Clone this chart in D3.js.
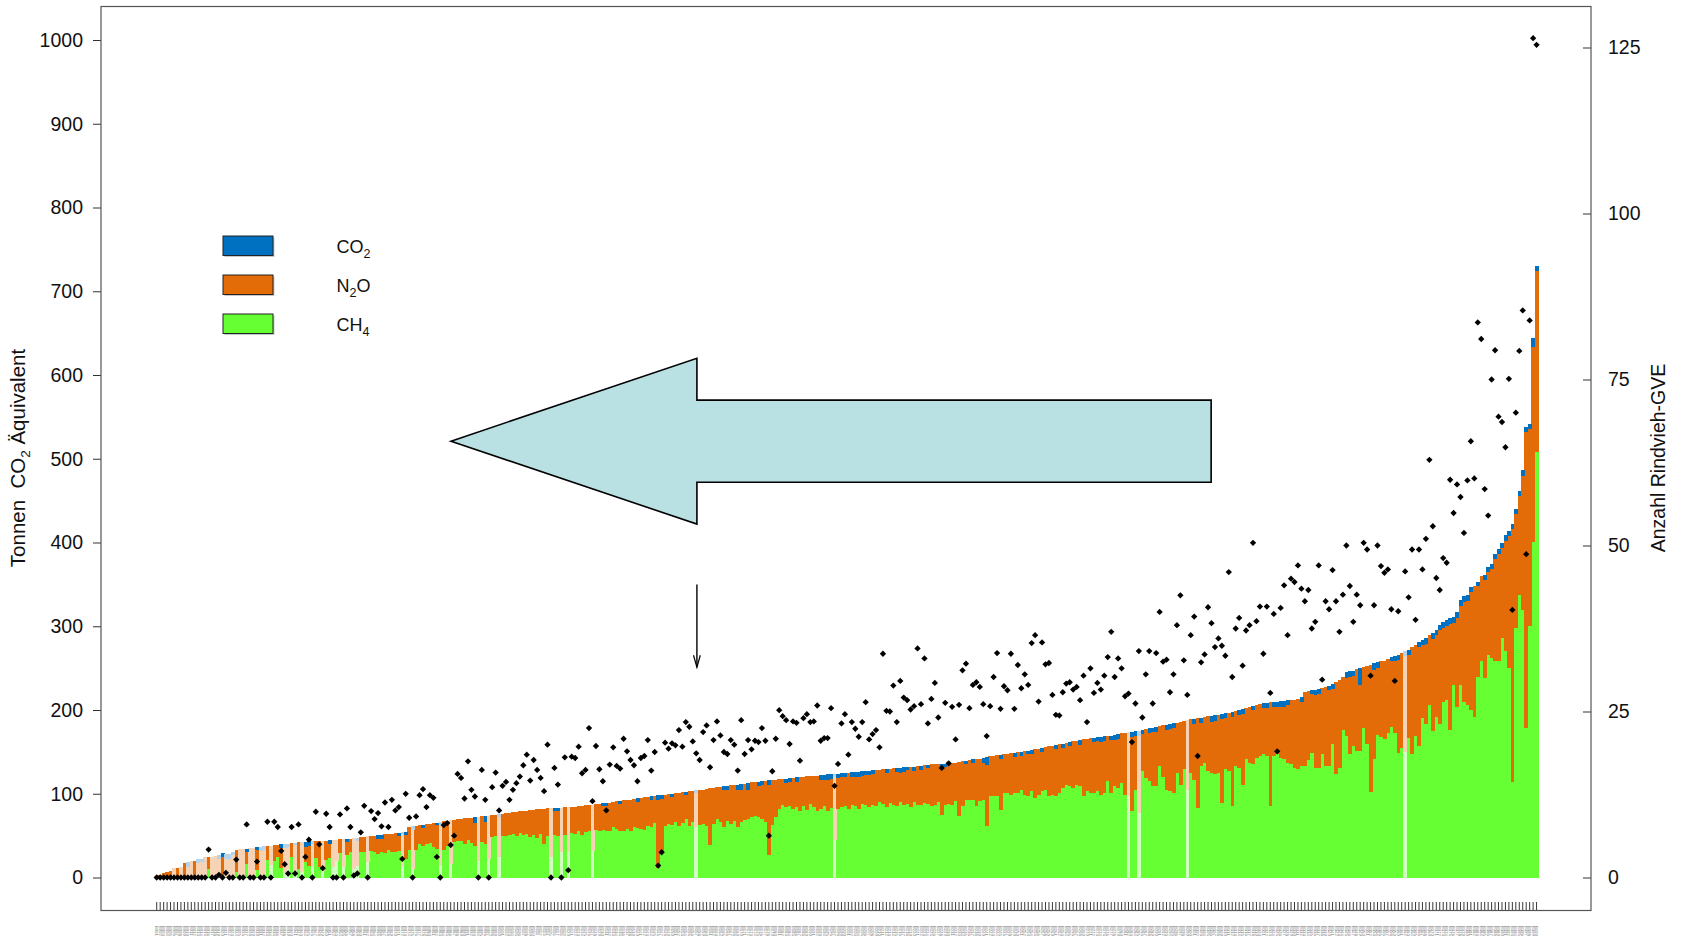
<!DOCTYPE html>
<html lang="de">
<head>
<meta charset="utf-8">
<title>Treibhausgasemissionen je Betrieb</title>
<script src="https://cdn.jsdelivr.net/npm/d3@7"></script>
<style>
  html, body { margin: 0; padding: 0; background: #fff; }
  svg { display: block; font-family: "Liberation Sans", Arial, sans-serif; }
</style>
</head>
<body>
<svg id="chart" width="1681" height="939"></svg>
<script>
// Emissionen je Betrieb in t CO2-Äquivalent, aufsteigend nach Gesamtsumme sortiert
const totalEmission = [
  2,3.5,5.5,6.6,7.4,11,11.5,12.6,17,18,
  19.4,19.5,22,22.5,24,24.5,25,26,27,29,
  28.5,28.5,31,33,34,33.5,34,35,35.5,36,
  37,37.5,37.5,38,38.5,39,39.5,39.5,40,41,
  41.5,42,42,42.5,43,43,43.5,43.5,44,44,
  44.5,45,45,45.5,46,46,46.5,47,47.5,48,
  48.5,49,49.5,50,50.5,51,51.5,52,52.5,53,
  53.5,54,54.5,60,61,62,62.5,63,63.5,64,
  65,65.5,66,67,68,68.5,69,69.5,70,70.5,
  71,71.5,72,72.5,73,73.5,74,74.5,75,75.5,
  76,76.5,77,78,78.5,79,79.5,80,80.5,81,
  81.5,81.5,82,82.5,83,83,83.5,83.5,84,84,
  84.5,84.5,85,85.5,86,86.5,87,87.5,88,88.5,
  89,89.5,90,91,91.5,92,92.5,93,94,94.5,
  95,96,96.5,97,97.5,98,98.5,99,99.5,100,
  100.5,101,102,102.5,103,103.5,104,104.5,105,106,
  106.5,107,108,108.5,109,109.5,110,110.5,111,111.5,
  112,112.5,113.5,114,114.5,115,115.5,116,116.5,117,
  117.5,117.5,118,118.5,119,119.5,120,120.5,121,121,
  121.5,121.5,122,122.5,123,123,123.5,124,124.5,124.5,
  125,125.5,126,126.5,127,127,127.5,128,128.5,128.5,
  129,129.5,130,130.5,131,131,131.5,132,132.5,132.5,
  133,133.5,134,134.5,135,135,135.5,136,136,136.5,
  136.5,137,138,139,139.5,140,141,141.5,142,143,
  144,144.5,145,146,146.5,147,147.5,148.5,149,149.5,
  150,150.5,151,152,153,154,154.5,155.5,156.5,157.5,
  158,159,160,161,161.5,162.5,163,164,165,165.5,
  166.5,167,167.5,168,168.5,169,169.5,170,171,172,
  172.5,173.5,174,175,175.5,176.5,177,178,179,180,
  180.5,181.5,182,183,184,185,186,187,188,189,
  189.5,190,191,192,192.5,193,194,194.5,195.5,196.5,
  197,198,199,200,201,202,203,204.5,206,207.5,
  208,208.5,209,209.5,210,210.5,211,211.5,212,212.5,
  213,215,222,223,224,224,225,226,228,229,
  231,233,236,240,245,246,247,249,250,251,
  253,254,256,257,258,259,261,263,265,266,
  268,270,272,275,278,281,284,286,289,292,
  296,302,305,307,309.7,310.5,316.5,331.6,335.6,337.6,
  346.7,347.5,353,360,361.5,370.6,374.6,386,392,400,
  409,414,422.3,439.8,461.6,486.7,538,542,644,730
];

// Anteil CH4 (t CO2-Äq.)
const ch4Emission = [
  0,0,0,0,0,0,0,0,0,0,
  0,0,0,0,0,10,0,0,0,0,
  0,0,0,7,0,0,16,0,0,9,
  0,0,21,15,20,24,11,5,10,25,
  8,10,6,19,14,12,23,12,8,21,
  23,12,20,29,12,27,31,10,14,30,
  31,18,32,31,28,30,29,33,31,30,
  32,12,22,33,10,33,40,38,40,41,
  36,34,14,33,38,16,42,44,43,40,
  45,41,38,20,42,40,22,48,49,25,
  50,49,51,52,50,53,51,52,48,51,
  47,52,40,50,25,51,50,30,51,30,
  53,52,55,51,54,55,32,57,56,57,
  56,55,60,58,56,55,58,56,60,59,
  58,57,62,60,65,11,29,62,64,63,
  66,62,65,70,62,66,60,63,64,62,
  39,64,70,66,60,68,64,68,60,66,
  69,70,72,74,72,70,66,27,63,72,
  82,86,84,85,82,84,80,85,81,88,
  84,79,82,85,80,83,45,82,84,85,
  82,87,85,82,88,86,84,87,85,90,
  88,84,89,87,85,90,86,88,84,90,
  87,86,89,88,85,87,90,75,86,88,
  87,91,73,85,93,93,93,85,91,93,
  61,97,97,97,81,101,101,99,101,101,
  105,99,97,103,95,99,103,105,97,99,
  97,101,107,111,109,107,111,109,97,103,
  101,101,103,99,101,115,101,109,107,113,
  99,97,79,105,77,127,119,115,109,109,
  133,120,105,103,101,125,111,129,105,125,
  117,83,133,137,127,125,123,125,89,129,
  127,85,133,131,111,141,137,135,143,145,
  147,145,85,145,147,143,141,137,135,131,
  129,133,133,140,149,131,131,147,133,133,
  159,123,131,176,169,147,157,151,151,178,
  159,102,141,170,168,165,172,180,172,149,
  155,150,167,147,169,157,190,183,206,175,
  192,183,210,212,176,230,204,230,210,206,
  200,192,239,258,238,266,262,258,258,286,
  270,250,114,298,337,320,178,300,401,508
];

// Anteil CO2 (t CO2-Äq.)
const co2Emission = [
  0,0,0,0,0,0,0,0,0,5,
  0,0,5,4,0,0,0,0,5,5,
  7,6,4,0,0,0,4,0,0,3,
  5,5,0,0,0,0,4,4,3,0,
  3,0,0,6,5,3,0,0,0,0,
  4,0,0,0,0,4,0,0,4,0,
  0,0,0,0,4,5,0,0,0,0,
  4,3,4,0,4,0,0,4,0,0,
  0,3,4,0,0,0,0,0,0,0,
  0,0,7,0,0,7,0,0,0,3,
  0,0,0,0,0,0,0,0,0,0,
  0,0,0,0,0,4,4,0,0,0,
  0,0,0,0,0,0,0,0,0,3,
  4,0,0,0,4,0,0,0,0,4,
  0,0,0,4,0,5,5,0,0,4,
  0,0,0,4,0,0,3,0,0,0,
  0,0,0,0,5,5,0,0,7,7,
  0,8,0,0,5,5,0,5,0,0,
  0,0,5,5,0,5,0,0,0,0,
  0,0,5,6,6,5,4,5,5,4,
  0,5,6,6,6,5,5,4,0,0,
  0,5,0,0,5,6,5,4,0,5,
  0,5,0,4,0,0,0,4,4,0,
  0,0,0,0,4,0,4,0,0,6,
  10,0,0,0,5,0,0,0,5,0,
  5,0,4,5,0,0,5,0,0,0,
  5,0,5,0,5,0,0,6,0,0,
  0,5,5,6,5,0,5,6,6,0,
  0,0,6,6,6,5,0,6,5,6,
  0,0,6,6,5,0,0,0,0,0,
  6,0,6,0,0,7,7,0,6,6,
  0,6,0,6,6,0,0,5,0,0,
  6,6,0,6,6,7,7,6,0,0,
  0,5,0,0,5,6,6,0,0,5,
  6,0,0,0,7,7,6,0,20,0,
  0,0,8,7,0,0,0,5,6,6,
  0,6,6,0,0,6,6,7,0,7,
  7,7,7,7,7,7,7,7,7,7,
  6,0,5,0,6,6,6,6,6,7,
  7,6,6,6,6,7,6,6,10,6
];

// Rindvieh-Großvieheinheiten je Betrieb (rechte Achse); null = kein Wert
const rindviehGVE = [
  0,0,0,0,0,0,0,0,0,0,
  0,0,0,0,0,4.2,0,0,0.4,0,
  0.7,0,0,2.7,0,0,8,0,0,2.4,
  0,0,8.4,0,8.4,7.6,4,2,0.6,7.6,
  0.6,8,0,3.1,5.7,0,9.9,5,1.4,9.6,
  7.6,0,0,9.5,0,10.4,7.6,0.3,0.6,6.8,
  10.8,0,10,8.8,9.7,7.7,11.3,7.6,11.7,10.1,
  10.6,2.8,12.6,9,0,9.2,12.4,13.3,10.6,12.4,
  12,3.1,0,7.9,8.2,4.9,6.3,15.6,15,11.9,
  17.5,13.2,12.2,0,16.2,11.7,0,13.6,15.8,10.1,
  13.8,14.4,11.7,13.2,14.2,15.2,16.9,18.5,14.6,17.7,
  16.2,15,13,20,0,16.5,14,0,18.1,1.1,
  18.2,18,19.7,15.7,16.2,22.5,11.5,19.8,16.3,14.5,
  10.1,17,19.6,16.8,16.4,20.9,19,17.7,16.9,14.5,
  18,18.3,20.7,16.1,18.9,1.8,3.8,20.3,19.4,20.2,
  19.9,22.2,19.7,23.4,22.7,20.5,18.7,17.7,21.9,22.9,
  16.6,20.7,23.5,21.4,18.9,18.6,20.7,20,16.1,23.7,
  18.6,20.7,19.3,20.6,20.4,22.5,20.6,6.3,16,20.9,
  25.2,24.3,23.7,20.1,23.5,23.3,17.6,24,24.6,23.4,
  23.5,25.9,20.6,21,21,25.5,13.8,17.1,23.2,24.6,
  18.5,23.4,22.4,21.2,23.4,26.4,20.8,21.6,22.2,19.6,
  33.7,25.1,25,28.9,23.4,29.6,27.1,26.7,25.3,25.8,
  34.5,26.1,33,23.2,26.9,29.3,24.1,16.5,26.3,17.2,
  25.7,20.8,26,31.2,32.2,25.5,29,29.4,28.7,26.1,
  21.3,25.8,30.2,33.8,25.4,28.8,28.2,33.7,25.4,32,
  28.5,30.6,29,35.3,36.5,26.5,35.4,32.1,32.3,27.5,
  24.5,24.4,27.9,29.2,29.4,28.3,28.7,26.7,30.4,23.4,
  31.5,27.8,29.3,28.3,30.4,33.2,37,30.2,33,31.5,
  27.3,27.7,20.4,26.2,34.1,24.1,30.6,34.1,26.2,33.8,
  40,32.5,32.8,27.9,30.6,38,42.5,32.7,27.5,36.5,
  39.3,18.3,32.4,33.6,40.7,38.3,34.7,36,34.9,33.4,
  46,30.2,37.5,39.1,31.9,37.2,38,50.4,38.6,40.8,
  33.7,40.8,27.8,39.7,19,40.6,44,36.5,45,44.5,
  47,43.5,41.6,43.3,37.5,38.5,47,29.8,41.6,40.4,
  46.3,41.6,37,42.6,50,43.9,38.5,42.6,41,50.4,
  49.4,30.4,41,50,46.9,45.9,46.4,40.4,29.6,40.1,
  null,46.1,42.2,49.4,38.8,49.4,46.4,51,62.9,52.9,
  45.1,43.3,48.1,47.4,59.9,54.9,59.2,57.3,51.9,59.8,
  65.7,60.1,83.6,81.1,58.5,54.5,75,79.4,69.4,68.6,
  64.8,75.1,40.3,70,79.3,85.4,48.7,83.9,126.4,125.4
];

// Betriebe, die hell dargestellt werden (Position in der Sortierung)
const paleFarms = [5,7,9,10,12,13,14,16,17,18,20,21,22,24,25,27,28,30,31,33,
  37,38,40,42,45,48,51,52,54,57,58,61,71,74,82,85,93,96,99,114,117,119,126,
  156,196,281,284,298,361];

const leftTicks = [0,100,200,300,400,500,600,700,800,900,1000];
const rightTicks = [0,25,50,75,100,125];
const gasKeys = ["ch4", "n2o", "co2"];
const gasColors = { co2: "#0070C0", n2o: "#E36C09", ch4: "#66FF33" };
const legendItems = [
  { key: "co2", parts: [["CO", false], ["2", true]] },
  { key: "n2o", parts: [["N", false], ["2", true], ["O", false]] },
  { key: "ch4", parts: [["CH", false], ["4", true]] }
];
const farmIds = d3.range(1, totalEmission.length + 1).map(n => "B" + String(n).padStart(3, "0"));

// Hinweispfeile in Datenkoordinaten (Betriebsposition, t CO2-Äq.)
const bigArrow = [[305.4,570],[156.7,570],[156.7,620],[85.6,521],[156.7,422],[156.7,472],[305.4,472]];
const smallArrow = [[156.7,350],[156.7,251]];

// ---------- layout ----------
const frame = { left: 101, right: 1591, top: 6.5, bottom: 910.5 };
const plotX0 = 155, plotX1 = 1538.3;
const fontSize = 19.5;

const svg = d3.select("#chart");

const x = d3.scaleBand().domain(farmIds).range([plotX0, plotX1]).paddingInner(0).paddingOuter(0);
const xPos = d3.scaleLinear().domain([0, farmIds.length]).range([plotX0, plotX1]);
const yL = d3.scaleLinear().domain([0, 1000]).range([877.5, 40]);
const yR = d3.scaleLinear().domain([0, 125]).range([877.5, 47.5]);

const paleSet = new Set(paleFarms);
const rows = totalEmission.map((t, i) => ({
  id: farmIds[i],
  pale: paleSet.has(i),
  ch4: ch4Emission[i],
  co2: co2Emission[i],
  n2o: Math.max(0, t - ch4Emission[i] - co2Emission[i])
}));
const series = d3.stack().keys(gasKeys)(rows);
const paleColor = c => d3.interpolateRgb(c, "#ffffff")(0.7);

// stacked bars
const barLayer = svg.append("g").attr("shape-rendering", "crispEdges");
barLayer.selectAll("g.gas")
  .data(series)
  .join("g")
  .attr("class", "gas")
  .each(function (s) {
    const col = gasColors[s.key];
    d3.select(this).selectAll("rect")
      .data(s.filter(d => d[1] > d[0]))
      .join("rect")
      .attr("x", d => x(d.data.id))
      .attr("width", x.bandwidth() + 0.4)
      .attr("y", d => yL(d[1]))
      .attr("height", d => yL(d[0]) - yL(d[1]))
      .attr("fill", d => d.data.pale ? paleColor(col) : col);
  });

// GVE points
const gvePoints = rindviehGVE.map((g, i) => ({ id: farmIds[i], g })).filter(d => d.g !== null);
svg.append("g").selectAll("path")
  .data(gvePoints)
  .join("path")
  .attr("d", d3.symbol(d3.symbolSquare, 20))
  .attr("transform", d => `translate(${x(d.id) + x.bandwidth() / 2},${yR(d.g)}) rotate(45)`)
  .attr("fill", "#000");

// left axis
const axL = svg.append("g")
  .attr("transform", `translate(${frame.left},0)`)
  .call(d3.axisLeft(yL).tickValues(leftTicks).tickSize(8).tickPadding(10).tickFormat(d3.format("d")));
axL.select(".domain").remove();
axL.selectAll("line").attr("stroke", "#333");
axL.selectAll("text").attr("font-size", fontSize).attr("font-family", "Liberation Sans, Arial, sans-serif").attr("fill", "#111");

// right axis (ticks pointing inwards)
const axR = svg.append("g")
  .attr("transform", `translate(${frame.right},0)`)
  .call(d3.axisRight(yR).tickValues(rightTicks).tickSizeInner(-8).tickSizeOuter(0).tickPadding(17).tickFormat(d3.format("d")));
axR.select(".domain").remove();
axR.selectAll("line").attr("stroke", "#333");
axR.selectAll("text").attr("font-size", fontSize).attr("font-family", "Liberation Sans, Arial, sans-serif").attr("fill", "#111");

// bottom axis with farm labels
const axB = svg.append("g")
  .attr("transform", `translate(0,${frame.bottom - 0.5})`)
  .call(d3.axisBottom(x).tickSizeInner(-8).tickSizeOuter(0));
axB.select(".domain").remove();
axB.selectAll("line").attr("stroke", "#222").attr("stroke-width", 0.9);
axB.selectAll("text")
  .attr("y", 0).attr("x", 16).attr("dy", "0.35em")
  .attr("transform", "rotate(90)")
  .style("text-anchor", "start")
  .attr("font-size", 4.2)
  .attr("font-family", "Liberation Sans, Arial, sans-serif")
  .attr("fill", "#777");

// plot frame
svg.append("rect")
  .attr("x", frame.left).attr("y", frame.top)
  .attr("width", frame.right - frame.left).attr("height", frame.bottom - frame.top)
  .attr("fill", "none").attr("stroke", "#555").attr("stroke-width", 1.2);

// axis titles
const leftTitle = svg.append("text")
  .attr("transform", `translate(25,458) rotate(-90)`)
  .attr("text-anchor", "middle")
  .attr("font-size", 20.5)
  .attr("fill", "#111")
  .style("white-space", "pre");
leftTitle.append("tspan").text("Tonnen  CO");
leftTitle.append("tspan").attr("dy", 5).attr("font-size", 13.5).text("2");
leftTitle.append("tspan").attr("dy", -5).text(" Äquivalent");

svg.append("text")
  .attr("transform", `translate(1665,458) rotate(-90)`)
  .attr("text-anchor", "middle")
  .attr("font-size", fontSize)
  .attr("fill", "#111")
  .text("Anzahl Rindvieh-GVE");

// legend
const legend = svg.append("g");
legendItems.forEach((item, k) => {
  const top = 236 + k * 39;
  legend.append("rect")
    .attr("x", 224.5).attr("y", top + 1.5).attr("width", 50).attr("height", 19.5)
    .attr("fill", "#c8c8c8");
  legend.append("rect")
    .attr("x", 223).attr("y", top).attr("width", 50).attr("height", 19.5)
    .attr("fill", gasColors[item.key]).attr("stroke", "#222").attr("stroke-width", 1);
  const t = legend.append("text")
    .attr("x", 336.5).attr("y", top + 17)
    .attr("font-size", 18).attr("fill", "#111");
  let shifted = false;
  item.parts.forEach(([str, sub]) => {
    const ts = t.append("tspan").text(str);
    if (sub && !shifted) { ts.attr("dy", 5).attr("font-size", 12.5); shifted = true; }
    else if (!sub && shifted) { ts.attr("dy", -5); shifted = false; }
  });
});

// annotation arrows
svg.append("path")
  .attr("d", d3.line().x(p => xPos(p[0])).y(p => yL(p[1])).curve(d3.curveLinearClosed)(bigArrow))
  .attr("fill", "#b9e0e3")
  .attr("stroke", "#000")
  .attr("stroke-width", 1.6)
  .attr("stroke-linejoin", "miter");

const ax0 = xPos(smallArrow[0][0]);
const ay0 = yL(smallArrow[0][1]);
const ay1 = yL(smallArrow[1][1]);
svg.append("line")
  .attr("x1", ax0).attr("x2", ax0).attr("y1", ay0).attr("y2", ay1)
  .attr("stroke", "#000").attr("stroke-width", 1.4);
svg.append("path")
  .attr("d", `M${ax0 - 3.4},${ay1 - 12} L${ax0},${ay1} L${ax0 + 3.4},${ay1 - 12}`)
  .attr("fill", "none").attr("stroke", "#000").attr("stroke-width", 1.2);
</script>
</body>
</html>
